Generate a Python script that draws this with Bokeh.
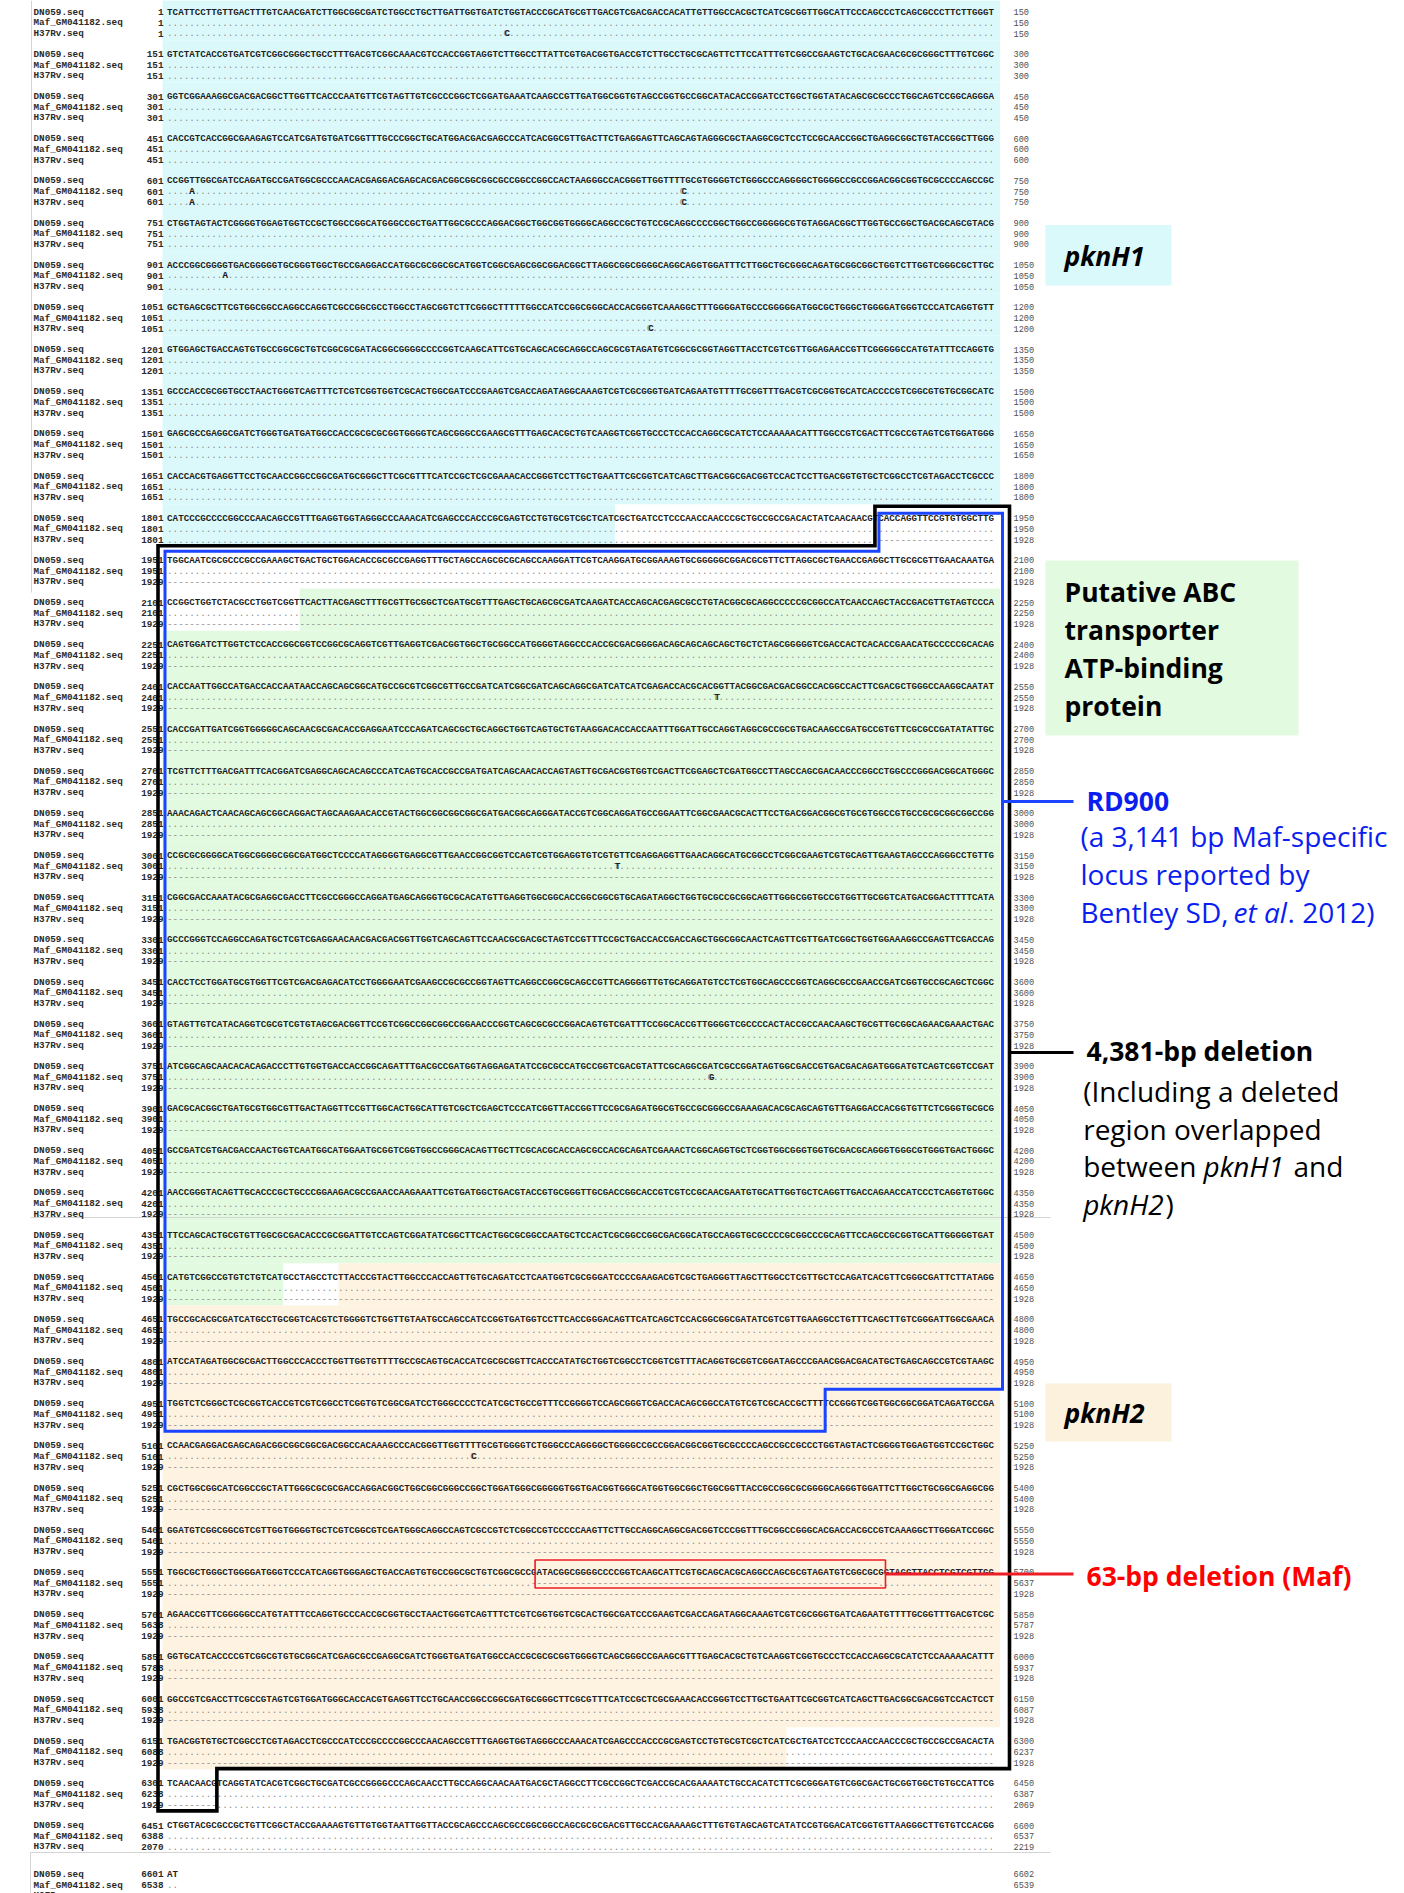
from bokeh.plotting import figure
from bokeh.models import Range1d
from bokeh.core.properties import value
from bokeh.embed import file_html
from bokeh.resources import INLINE

# ------------------------------------------------------------------ data
seq_names = ["DN059.seq", "Maf_GM041182.seq", "H37Rv.seq"]

dn059_start = [1, 151, 301, 451, 601, 751, 901, 1051, 1201, 1351, 1501, 1651, 1801, 1951, 2101,
               2251, 2401, 2551, 2701, 2851, 3001, 3151, 3301, 3451, 3601, 3751, 3901, 4051, 4201,
               4351, 4501, 4651, 4801, 4951, 5101, 5251, 5401, 5551, 5701, 5851, 6001, 6151, 6301,
               6451, 6601]
dn059_end = [150, 300, 450, 600, 750, 900, 1050, 1200, 1350, 1500, 1650, 1800, 1950, 2100, 2250,
             2400, 2550, 2700, 2850, 3000, 3150, 3300, 3450, 3600, 3750, 3900, 4050, 4200, 4350,
             4500, 4650, 4800, 4950, 5100, 5250, 5400, 5550, 5700, 5850, 6000, 6150, 6300, 6450,
             6600, 6602]
maf_start = [1, 151, 301, 451, 601, 751, 901, 1051, 1201, 1351, 1501, 1651, 1801, 1951, 2101,
             2251, 2401, 2551, 2701, 2851, 3001, 3151, 3301, 3451, 3601, 3751, 3901, 4051, 4201,
             4351, 4501, 4651, 4801, 4951, 5101, 5251, 5401, 5551, 5638, 5788, 5938, 6088, 6238,
             6388, 6538]
maf_end = [150, 300, 450, 600, 750, 900, 1050, 1200, 1350, 1500, 1650, 1800, 1950, 2100, 2250,
           2400, 2550, 2700, 2850, 3000, 3150, 3300, 3450, 3600, 3750, 3900, 4050, 4200, 4350,
           4500, 4650, 4800, 4950, 5100, 5250, 5400, 5550, 5637, 5787, 5937, 6087, 6237, 6387,
           6537, 6539]
h37_start = [1, 151, 301, 451, 601, 751, 901, 1051, 1201, 1351, 1501, 1651, 1801, 1929, 1929,
             1929, 1929, 1929, 1929, 1929, 1929, 1929, 1929, 1929, 1929, 1929, 1929, 1929, 1929,
             1929, 1929, 1929, 1929, 1929, 1929, 1929, 1929, 1929, 1929, 1929, 1929, 1929, 1929,
             2070, 2220]
h37_end = [150, 300, 450, 600, 750, 900, 1050, 1200, 1350, 1500, 1650, 1800, 1928, 1928, 1928,
           1928, 1928, 1928, 1928, 1928, 1928, 1928, 1928, 1928, 1928, 1928, 1928, 1928, 1928,
           1928, 1928, 1928, 1928, 1928, 1928, 1928, 1928, 1928, 1928, 1928, 1928, 1928, 2069,
           2219, 2221]

dn059_seq = [
    "TCATTCCTTGTTGACTTTGTCAACGATCTTGGCGGCGATCTGGCCTGCTTGATTGGTGATCTGGTACCCGCATGCGTTGACGTCGACGACCACATTGTTGGCCACGCTCATCGCGGTTGGCATTCCCAGCCCTCAGCGCCCTTCTTGGGT",
    "GTCTATCACCGTGATCGTCGGCGGGCTGCCTTTGACGTCGGCAAACGTCCACCGGTAGGTCTTGGCCTTATTCGTGACGGTGACCGTCTTGCCTGCGCAGTTCTTCCATTTGTCGGCCGAAGTCTGCACGAACGCGCGGGCTTTGTCGGC",
    "GGTCGGAAAGGCGACGACGGCTTGGTTCACCCAATGTTCGTAGTTGTCGCCCGGCTCGGATGAAATCAAGCCGTTGATGGCGGTGTAGCCGGTGCCGGCATACACCGGATCCTGGCTGGTATACAGCGCGCCCTGGCAGTCCGGCAGGGA",
    "CACCGTCACCGGCGAAGAGTCCATCGATGTGATCGGTTTGCCCGGCTGCATGGACGACGAGCCCATCACGGCGTTGACTTCTGAGGAGTTCAGCAGTAGGGCGCTAAGGCGCTCCTCCGCAACCGGCTGAGGCGGCTGTACCGGCTTGGG",
    "CCGGTTGGCGATCCAGATGCCGATGGCGCCCAACACGAGGACGAGCACGACGGCGGCGGCGCCGGCCGGCCACTAAGGGCCACGGGTTGGTTTTGCGTGGGGTCTGGGCCCAGGGGCTGGGGCCGCCGGACGGCGGTGCGCCCCAGCCGC",
    "CTGGTAGTACTCGGGGTGGAGTGGTCCGCTGGCCGGCATGGGCCGCTGATTGGCGCCCAGGACGGCTGGCGGTGGGGCAGGCCGCTGTCCGCAGGCCCCGGCTGGCCGGGGGCGTGTAGGACGGCTTGGTGCCGGCTGACGCAGCGTACG",
    "ACCCGGCGGGGTGACGGGGGTGCGGGTGGCTGCCGAGGACCATGGCGCGGCGCATGGTCGGCGAGCGGCGGACGGCTTAGGCGGCGGGGCAGGCAGGTGGATTTCTTGGCTGCGGGCAGATGCGGCGGCTGGTCTTGGTCGGGCGCTTGC",
    "GCTGAGCGCTTCGTGGCGGCCAGGCCAGGTCGCCGGCGCCTGGCCTAGCGGTCTTCGGGCTTTTTGGCCATCCGGCGGGCACCACGGGTCAAAGGCTTTGGGGATGCCCGGGGGATGGCGCTGGGCTGGGGATGGGTCCCATCAGGTGTT",
    "GTGGAGCTGACCAGTGTGCCGGCGCTGTCGGCGCGATACGGCGGGGCCCCGGTCAAGCATTCGTGCAGCACGCAGGCCAGCGCGTAGATGTCGGCGCGGTAGGTTACCTCGTCGTTGGAGAACCGTTCGGGGGCCATGTATTTCCAGGTG",
    "GCCCACCGCGGTGCCTAACTGGGTCAGTTTCTCGTCGGTGGTCGCACTGGCGATCCCGAAGTCGACCAGATAGGCAAAGTCGTCGCGGGTGATCAGAATGTTTTGCGGTTTGACGTCGCGGTGCATCACCCCGTCGGCGTGTGCGGCATC",
    "GAGCGCCGAGGCGATCTGGGTGATGATGGCCACCGCGCGCGGTGGGGTCAGCGGGCCGAAGCGTTTGAGCACGCTGTCAAGGTCGGTGCCCTCCACCAGGCGCATCTCCAAAAACATTTGGCCGTCGACTTCGCCGTAGTCGTGGATGGG",
    "CACCACGTGAGGTTCCTGCAACCGGCCGGCGATGCGGGCTTCGCGTTTCATCCGCTCGCGAAACACCGGGTCCTTGCTGAATTCGCGGTCATCAGCTTGACGGCGACGGTCCACTCCTTGACGGTGTGCTCGGCCTCGTAGACCTCGCCC",
    "CATCCCGCCCCGGCCCAACAGCCGTTTGAGGTGGTAGGGCCCAAACATCGAGCCCACCCGCGAGTCCTGTGCGTCGCTCATCGCTGATCCTCCCAACCAACCCGCTGCCGCCGACACTATCAACAACGTCACCAGGTTCCGTGTGGCTTG",
    "TGGCAATCGCGCCCGCCGAAAGCTGACTGCTGGACACCGCGCCGAGGTTTGCTAGCCAGCGCGCAGCCAAGGATTCGTCAAGGATGCGGAAAGTGCGGGGGCGGACGCGTTCTTAGGCGCTGAACCGAGGCTTGCGCGTTGAACAAATGA",
    "CCGGCTGGTCTACGCCTGGTCGGTTCACTTACGAGCTTTGCGTTGCGGCTCGATGCGTTTGAGCTGCAGCGCGATCAAGATCACCAGCACGAGCGCCTGTACGGCGCAGGCCCCCGCGGCCATCAACCAGCTACCGACGTTGTAGTCCCA",
    "CAGTGGATCTTGGTCTCCACCGGCGGTCCGGCGCAGGTCGTTGAGGTCGACGGTGGCTGCGGCCATGGGGTAGGCCCACCGCGACGGGGACAGCAGCAGCAGCTGCTCTAGCGGGGGTCGACCACTCACACCGAACATGCCCCCGCACAG",
    "CACCAATTGGCCATGACCACCAATAACCAGCAGCGGCATGCCGCGTCGGCGTTGCCGATCATCGGCGATCAGCAGGCGATCATCATCGAGACCACGCACGGTTACGGCGACGACGGCCACGGCCACTTCGACGCTGGGCCAAGGCAATAT",
    "CACCGATTGATCGGTGGGGGCAGCAACGCGACACCGAGGAATCCCAGATCAGCGCTGCAGGCTGGTCAGTGCTGTAAGGACACCACCAATTTGGATTGCCAGGTAGGCGCCGCGTGACAAGCCGATGCCGTGTTCGCGCCGATATATTGC",
    "TCGTTCTTTGACGATTTCACGGATCGAGGCAGCACAGCCCATCAGTGCACCGCCGATGATCAGCAACACCAGTAGTTGCGACGGTGGTCGACTTCGGAGCTCGATGGCCTTAGCCAGCGACAACCCGGCCTGGCCCGGGACGGCATGGGC",
    "AAACAGACTCAACAGCAGCGGCAGGACTAGCAAGAACACCGTACTGGCGGCGGCGGCGATGACGGCAGGGATACCGTCGGCAGGATGCCGGAATTCGGCGAACGCACTTCCTGACGGACGGCGTGCGTGGCCGTGCCGCGCGGCGGCCGG",
    "CCGCGCGGGGCATGGCGGGGCGGCGATGGCTCCCCATAGGGGTGAGGCGTTGAACCGGCGGTCCAGTCGTGGAGGTGTCGTGTTCGAGGAGGTTGAACAGGCATGCGGCCTCGGCGAAGTCGTGCAGTTGAAGTAGCCCAGGGCCTGTTG",
    "CGGCGACCAAATACGCGAGGCGACCTTCGCCGGGCCAGGATGAGCAGGGTGCGCACATGTTGAGGTGGCGGCACCGGCGGCGTGCAGATAGGCTGGTGCGCCGCGGCAGTTGGGCGGTGCCGTGGTTGCGGTCATGACGGACTTTTCATA",
    "GCCCGGGTCCAGGCCAGATGCTCGTCGAGGAACAACGACGACGGTTGGTCAGCAGTTCCAACGCGACGCTAGTCCGTTTCCGCTGACCACCGACCAGCTGGCGGCAACTCAGTTCGTTGATCGGCTGGTGGAAAGGCCGAGTTCGACCAG",
    "CACCTCCTGGATGCGTGGTTCGTCGACGAGACATCCTGGGGAATCGAAGCCGCGCCGGTAGTTCAGGCCGGCGCAGCCGTTCAGGGGTTGTGCAGGATGTCCTCGTGGCAGCCCGGTCAGGCGCCGAACCGATCGGTGCCGCAGCTCGGC",
    "GTAGTTGTCATACAGGTCGCGTCGTGTAGCGACGGTTCCGTCGGCCGGCGGCCGGAACCCGGTCAGCGCGCCGGACAGTGTCGATTTCCGGCACCGTTGGGGTCGCCCCACTACCGCCAACAAGCTGCGTTGCGGCAGAACGAAACTGAC",
    "ATCGGCAGCAACACACAGACCCTTGTGGTGACCACCGGCAGATTTGACGCCGATGGTAGGAGATATCCGCGCCATGCCGGTCGACGTATTCGCAGGCGATCGCCGGATAGTGGCGACCGTGACGACAGATGGGATGTCAGTCGGTCCGAT",
    "GACGCACGGCTGATGCGTGGCGTTGACTAGGTTCCGTTGGCACTGGCATTGTCGCTCGAGCTCCCATCGGTTACCGGTTCCGCGAGATGGCGTGCCGCGGGCCGAAAGACACGCAGCAGTGTTGAGGACCACGGTGTTCTCGGGTGCGCG",
    "GCCGATCGTGACGACCAACTGGTCAATGGCATGGAATGCGGTCGGTGGCCGGGCACAGTTGCTTCGCACGCACCAGCGCCACGCAGATCGAAACTCGGCAGGTGCTCGGTGGCGGGTGGTGCGACGCAGGGTGGGCGTGGGTGACTGGGC",
    "AACCGGGTACAGTTGCACCCGCTGCCCGGAAGACGCCGAACCAAGAAATTCGTGATGGCTGACGTACCGTGCGGGTTGCGACCGGCACCGTCGTCCGCAACGAATGTGCATTGGTGCTCAGGTTGACCAGAACCATCCCTCAGGTGTGGC",
    "TTCCAGCACTGCGTGTTGGCGCGACACCCGCGGATTGTCCAGTCGGATATCGGCTTCACTGGCGCGGCCAATGCTCCACTCGCGGCCGGCGACGGCATGCCAGGTGCGCCCCGCGGCCCGCAGTTCCAGCCGCGGTGCATTGGGGGTGAT",
    "CATGTCGGCCGTGTCTGTCATGCCTAGCCTCTTACCCGTACTTGGCCCACCAGTTGTGCAGATCCTCAATGGTCGCGGGATCCCCGAAGACGTCGCTGAGGGTTAGCTTGGCCTCGTTGCTCCAGATCACGTTCGGGCGATTCTTATAGG",
    "TGCCGCACGCGATCATGCCTGCGGTCACGTCTGGGGTCTGGTTGTAATGCCAGCCATCCGGTGATGGTCCTTCACCGGGACAGTTCATCAGCTCCACGGCGGCGATATCGTCGTTGAAGGCCTGTTTCAGCTTGTCGGGATTGGCGAACA",
    "ATCCATAGATGGCGCGACTTGGCCCACCCTGGTTGGTGTTTTGCCGCAGTGCACCATCGCGCGGTTCACCCATATGCTGGTCGGCCTCGGTCGTTTACAGGTGCGGTCGGATAGCCCGAACGGACGACATGCTGAGCAGCCGTCGTAAGC",
    "TGGTCTCGGGCTCGCGGTCACCGTCGTCGGCCTCGGTGTCGGCGATCCTGGGCCCCTCATCGCTGCCGTTTCCGGGGTCCAGCGGGTCGACCACAGCGGCCATGTCGTCGCACCGCTTTTCCGGGTCGGTGGCGGCGGATCAGATGCCGA",
    "CCAACGAGGACGAGCAGACGGCGGCGGCGACGGCCACAAAGCCCACGGGTTGGTTTTGCGTGGGGTCTGGGCCCAGGGGCTGGGGCCGCCGGACGGCGGTGCGCCCCAGCCGCCGCCCTGGTAGTACTCGGGGTGGAGTGGTCCGCTGGC",
    "CGCTGGCGGCATCGGCCGCTATTGGGCGCGCGACCAGGACGGCTGGCGGCGGGCCGGCTGGATGGGCGGGGGTGGTGACGGTGGGCATGGTGGCGGCTGGCGGTTACCGCCGGCGCGGGGCAGGGTGGATTCTTGGCTGCGGCGAGGCGG",
    "GGATGTCGGCGGCGTCGTTGGTGGGGTGCTCGTCGGCGTCGATGGGCAGGCCAGTCGCCGTCTCGGCCGTCCCCCAAGTTCTTGCCAGGCAGGCGACGGTCCCGGTTTGCGGCCGGGCACGACCACGCCGTCAAAGGCTTGGGATCCGGC",
    "TGGCGCTGGGCTGGGGATGGGTCCCATCAGGTGGGAGCTGACCAGTGTGCCGGCGCTGTCGGCGCCGATACGGCGGGGCCCCGGTCAAGCATTCGTGCAGCACGCAGGCCAGCGCGTAGATGTCGGCGCGGTAGGTTACCTCGTCGTTGG",
    "AGAACCGTTCGGGGGCCATGTATTTCCAGGTGCCCACCGCGGTGCCTAACTGGGTCAGTTTCTCGTCGGTGGTCGCACTGGCGATCCCGAAGTCGACCAGATAGGCAAAGTCGTCGCGGGTGATCAGAATGTTTTGCGGTTTGACGTCGC",
    "GGTGCATCACCCCGTCGGCGTGTGCGGCATCGAGCGCCGAGGCGATCTGGGTGATGATGGCCACCGCGCGCGGTGGGGTCAGCGGGCCGAAGCGTTTGAGCACGCTGTCAAGGTCGGTGCCCTCCACCAGGCGCATCTCCAAAAACATTT",
    "GGCCGTCGACCTTCGCCGTAGTCGTGGATGGGCACCACGTGAGGTTCCTGCAACCGGCCGGCGATGCGGGCTTCGCGTTTCATCCGCTCGCGAAACACCGGGTCCTTGCTGAATTCGCGGTCATCAGCTTGACGGCGACGGTCCACTCCT",
    "TGACGGTGTGCTCGGCCTCGTAGACCTCGCCCATCCCGCCCCGGCCCAACAGCCGTTTGAGGTGGTAGGGCCCAAACATCGAGCCCACCCGCGAGTCCTGTGCGTCGCTCATCGCTGATCCTCCCAACCAACCCGCTGCCGCCGACACTA",
    "TCAACAACGTCAGGTATCACGTCGGCTGCGATCGCCGGGGCCCAGCAACCTTGCCAGGCAACAATGACGCTAGGCCTTCGCCGGCTCGACCGCACGAAAATCTGCCACATCTTCGCGGGATGTCGGCGACTGCGGTGGCTGTGCCATTCG",
    "CTGGTACGCGCCGCTGTTCGGCTACCGAAAAGTGTTGTGGTAATTGGTTACCGCAGCCCAGCGCCGGCGGCCAGCGCGCGACGTTGCCACGAAAAGCTTTGTGTAGCAGTCATATCCGTGGACATCGGTGTTAAGGGCTTGTGTCCACGG",
    "AT",
]

# substitutions shown in the dotted rows: (block start in DN059, column, base)
maf_variants = [(601, 5, "A"), (601, 94, "C"), (901, 11, "A"), (2401, 100, "T"),
                (3001, 82, "T"), (3751, 99, "G"), (5101, 56, "C")]
h37_variants = [(1, 62, "C"), (601, 5, "A"), (601, 94, "C"), (1051, 88, "C")]

# regions in DN059 coordinates
h37_deletion = (1929, 6309)   # 4,381 bp missing from H37Rv
rd900_region = (1929, 5069)   # RD900, 3,141 bp
maf_deletion = (5617, 5679)   # 63 bp missing from Maf
gene_regions = [("pknH1", 1, 1881, "#dbf9fb"),
                ("ABC", 2125, 4521, "#e1fae0"),
                ("pknH2", 4532, 6262, "#fdf3e0")]

# ------------------------------------------------------------------ layout
W, H = 1404, 1893
X_LABEL, X_LNUM, X_SEQ, CW, X_RNUM = 33.0, 163.0, 166.6, 5.53, 1013.0
Y0, DY, RS, LAST_GAP = 11.7, 42.17, 10.67, 6.8
NB = len(dn059_start)
MONO = value("Liberation Mono")
SANS = value("Open Sans")


def block_y(i):
    return Y0 + DY * i + (LAST_GAP if i == NB - 1 else 0.0)


def col_x(c):
    return X_SEQ + c * CW


p = figure(width=W, height=H, x_range=Range1d(0, W), y_range=Range1d(H, 0),
           output_backend="svg", toolbar_location=None,
           x_axis_location=None, y_axis_location=None, min_border=0,
           outline_line_color=None, background_fill_color="white",
           border_fill_color="white")
p.grid.visible = False

seqs = [s[:150] for s in dn059_seq]

# ---------- background shading of the genes
ql, qr, qt, qb, qc = [], [], [], [], []
for i in range(NB - 1):
    st = dn059_start[i]
    en = st + len(seqs[i]) - 1
    by = block_y(i)
    for name, a, b, colr in gene_regions:
        lo, hi = max(a, st), min(b, en)
        if lo > hi:
            continue
        c0, c1 = lo - st, hi - st
        ql.append(col_x(c0) - (4.6 if c0 == 0 else 0))
        qr.append(col_x(c1 + 1) + (3.4 if c1 == 149 else 0))
        qt.append(by - 14)
        qb.append(by - 14 + DY)
        qc.append(colr)
p.quad(left=ql, right=qr, top=qt, bottom=qb, fill_color=qc, line_color=None)

# screenshot seams
p.segment(x0=[31, 30, 30, 30], y0=[0, 1217, 1852, 1852], x1=[31, 1050, 1050, 30],
          y1=[592, 1217, 1852, 1893], line_color="#d4d4d4", line_width=1)

# ---------- alignment text
lab_x, lab_y, lab_t = [], [], []
ln_y, ln_t = [], []
rn_y, rn_t = [], []
s_y, s_t = [], []
d_y, d_t = [], []
v_x, v_y, v_t = [], [], []

for i in range(NB):
    by = block_y(i)
    st = dn059_start[i]
    s = seqs[i]
    rows_y = [by, by + RS, by + 2 * RS]
    for k in range(3):
        lab_x.append(X_LABEL)
        lab_y.append(rows_y[k])
        lab_t.append(seq_names[k])
    ln_y += rows_y
    ln_t += [str(dn059_start[i]), str(maf_start[i]), str(h37_start[i])]
    rn_y += rows_y
    rn_t += [str(dn059_end[i]), str(maf_end[i]), str(h37_end[i])]
    s_y.append(by)
    s_t.append(s)
    maf_row = ["-" if maf_deletion[0] <= st + c <= maf_deletion[1] else "." for c in range(len(s))]
    h37_row = ["-" if h37_deletion[0] <= st + c <= h37_deletion[1] else "." for c in range(len(s))]
    for row, var, ry in ((maf_row, maf_variants, rows_y[1]), (h37_row, h37_variants, rows_y[2])):
        for bst, col, base in var:
            if bst == st:
                row[col - 1] = base
                v_x.append(col_x(col - 1))
                v_y.append(ry)
                v_t.append(base)
        d_y.append(ry)
        d_t.append("".join(row))

p.text(x=lab_x, y=lab_y, text=lab_t, text_font=MONO, text_font_size=value("9.3px"),
       text_font_style="bold", text_color="#2a2a2a", text_baseline="middle", text_align="left")
p.text(x=[X_LNUM] * len(ln_t), y=ln_y, text=ln_t, text_font=MONO, text_font_size=value("9.3px"),
       text_font_style="bold", text_color="#2a2a2a", text_baseline="middle", text_align="right")
p.text(x=[X_SEQ] * len(s_t), y=s_y, text=s_t, text_font=MONO, text_font_size=value("9.2px"),
       text_font_style="bold", text_color="#1e1e1e", text_baseline="middle", text_align="left")
p.text(x=[X_SEQ] * len(d_t), y=d_y, text=d_t, text_font=MONO, text_font_size=value("9.2px"),
       text_color="#8c8c8c", text_baseline="middle", text_align="left")
p.text(x=v_x, y=v_y, text=v_t, text_font=MONO, text_font_size=value("9.2px"),
       text_font_style="bold", text_color="#1e1e1e", text_baseline="middle", text_align="left")
p.text(x=[X_RNUM] * len(rn_t), y=rn_y, text=rn_t, text_font=MONO, text_font_size=value("8.6px"),
       text_color="#505050", text_baseline="middle", text_align="left")


# ---------- boxes around the deleted regions
def outline(region, xl, xr, top_off, step_off, bot_off, step_dx):
    bs, cs = divmod(region[0] - 1, 150)
    be, ce = divmod(region[1] - 1, 150)
    ys, ye, yp = block_y(bs), block_y(be), block_y(be - 1)
    xa = col_x(cs) + step_dx
    xb = col_x(ce + 1)
    xs = [xa, xr, xr, xb, xb, xl, xl, xa]
    yy = [ys + top_off, ys + top_off, yp + bot_off, yp + bot_off, ye + bot_off, ye + bot_off,
          ys + step_off, ys + step_off]
    return xs, yy


bx, byy = outline(h37_deletion, 157.5, 1009.0, -12, 27.5, 27.5, 0)
p.patch(bx, byy, fill_color=None, line_color="#000000", line_width=3.6, line_join="miter")
ux, uy = outline(rd900_region, 164.5, 1002.0, -5, 33, 27.5, 4)
p.patch(ux, uy, fill_color=None, line_color="#1a44ff", line_width=3, line_join="miter")

mb, mc = divmod(maf_deletion[0] - 1, 150)
me = (maf_deletion[1] - 1) % 150
ry = block_y(mb)
r_left, r_right = col_x(mc) + 3, col_x(me + 1) + 5
p.quad(left=[r_left], right=[r_right], top=[ry - 12.5], bottom=[ry + 15.5],
       fill_color=None, line_color="#ee1c25", line_width=1.6)

# ---------- callout lines
p.segment(x0=[1002, 1009, r_right], y0=[801, 1052, ry + 1.5], x1=[1073, 1073, 1073],
          y1=[801, 1052, ry + 1.5], line_color=["#1a44ff", "#000000", "#ee1c25"], line_width=3)

# ---------- gene label boxes
p.quad(left=[1045, 1045, 1045], right=[1171, 1298, 1171], top=[224.5, 560, 1383],
       bottom=[285, 735, 1441], fill_color=["#daf9fb", "#e1fae0", "#fcf1dd"], line_color=None)


def label(xs, ys, texts, style, color, size):
    p.text(x=xs, y=ys, text=texts, text_font=SANS, text_font_size=value(size),
           text_font_style=style, text_color=color, text_baseline="middle", text_align="left")


BLUE_T = "#0b1ef0"
label([1064, 1064], [255, 1412], ["pknH1", "pknH2"], "bold italic", "#000000", "26.5px")
label([1064, 1064, 1064, 1064], [591, 629, 667, 705],
      ["Putative ABC", "transporter", "ATP-binding", "protein"], "bold", "#000000", "26.5px")
label([1086], [800], ["RD900"], "bold", BLUE_T, "26.5px")
label([1080, 1080, 1080, 1287], [835, 873, 911, 911],
      ["(a 3,141 bp Maf-specific", "locus reported by", "Bentley SD,", ". 2012)"],
      "normal", BLUE_T, "28px")
label([1233], [911], ["et al"], "italic", BLUE_T, "28px")
label([1086], [1050], ["4,381-bp deletion"], "bold", "#000000", "26.5px")
label([1082.7, 1082.7, 1082.7, 1293, 1165], [1090, 1128, 1165, 1165, 1203],
      ["(Including a deleted", "region overlapped", "between", "and", ")"],
      "normal", "#000000", "28px")
label([1203, 1082.7], [1165, 1203], ["pknH1", "pknH2"], "italic", "#000000", "28px")
label([1086], [1575], ["63-bp deletion (Maf)"], "bold", "#ff0000", "26.5px")

open("out.html", "w").write(file_html(p, INLINE))
